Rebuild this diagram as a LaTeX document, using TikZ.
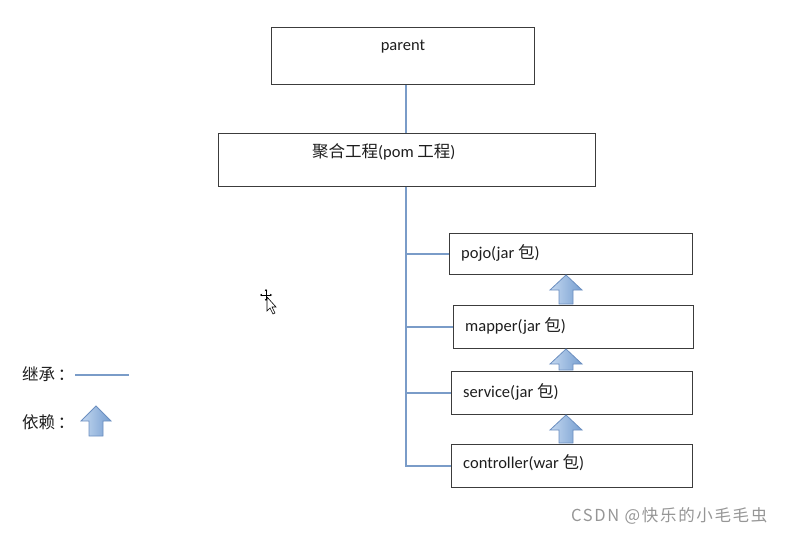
\documentclass[tikz,border=0pt]{standalone}
\usepackage{fontspec}
\setmainfont{Carlito}
\newfontfamily\cjk{Noto Sans CJK SC}
\newfontfamily\wmfont[LetterSpace=10]{Noto Sans CJK SC}
\usetikzlibrary{calc,arrows.meta}
\definecolor{linec}{RGB}{122,156,200}
\definecolor{boxc}{RGB}{60,60,60}
\definecolor{textc}{RGB}{30,30,30}
\definecolor{arrowc}{RGB}{108,143,192}
\definecolor{arrowl}{RGB}{196,216,240}
\definecolor{arrowd}{RGB}{118,158,208}
\definecolor{wmc}{RGB}{150,150,150}
\tikzset{
  box/.style={draw=boxc, line width=1pt, fill=white, inner sep=0pt, anchor=north west},
  lbl/.style={font=\fontsize{16.5}{19}\selectfont, inner sep=0pt, text=textc},
  inh/.style={draw=linec, line width=2pt},
  dep/.style={draw=arrowc, line width=0.8pt, left color=arrowl, right color=arrowd},
  wm/.style={font=\wmfont\fontsize{16.5}{19}\selectfont, inner sep=0pt, text=wmc, anchor=west},
}
\newcommand\deparrow[2]{%
  \path[dep] ($(#1.south -| ax)+(0,0)$) -- ++(16,15) -- ++(-9,0)
    -- ($(#2.north -| ax)+(7,-1)$) -- ++(-14,0)
    -- ($(#1.south -| ax)+(-7,15)$) -- ++(-9,0) -- cycle;}
\begin{document}
\begin{tikzpicture}[x=1pt,y=-1pt]
\useasboundingbox (0,0) rectangle (786,534);
% boxes
\node[box, minimum width=263pt, minimum height=57pt] (parent) at (271,27) {};
\node[box, minimum width=377pt, minimum height=53pt] (agg) at (218,133) {};
\node[box, minimum width=243pt, minimum height=41pt] (pojo) at (449,233) {};
\node[box, minimum width=240pt, minimum height=43pt] (mapper) at (453,305) {};
\node[box, minimum width=241pt, minimum height=43pt] (service) at (451,371) {};
\node[box, minimum width=241pt, minimum height=43pt] (controller) at (451,444) {};
% labels
\node[lbl] (tparent) at (403,47) {parent};
\node[lbl, anchor=west] (tagg) at (312,152) {{\cjk 聚合工程}(pom {\cjk 工程})};
\node[lbl, anchor=west] (tpojo) at (461,253) {pojo(jar {\cjk 包})};
\node[lbl, anchor=west] (tmapper) at (465,326) {mapper(jar {\cjk 包})};
\node[lbl, anchor=west] (tservice) at (463,392) {service(jar {\cjk 包})};
\node[lbl, anchor=west] (tcontroller) at (463,463) {controller(war {\cjk 包})};
% inheritance lines
\coordinate (t) at (406,0);
\draw[inh] (parent.south -| t) -- (agg.north -| t);
\draw[inh] (agg.south -| t) |- (pojo.west);
\draw[inh] (agg.south -| t) |- (mapper.west);
\draw[inh] (agg.south -| t) |- (service.west);
\draw[inh] (agg.south -| t) |- (controller.west);
% dependency arrows
\coordinate (ax) at (566,0);
\deparrow{pojo}{mapper}
\deparrow{mapper}{service}
\deparrow{service}{controller}
% legend
\node[lbl, anchor=west] (linh) at (22,374) {{\cjk 继承}\,{\cjk ：}};
\coordinate (la) at (75,375);
\coordinate (lb) at (129,375);
\draw[inh] (la) -- (lb);
\node[lbl, anchor=west] (ldep) at (22,422) {{\cjk 依赖}\,{\cjk ：}};
\coordinate (lt) at (96,406);
\coordinate (lbase) at (96,436);
\path[dep] (lt) -- ++(15,15) -- ++(-8,0) -- ($(lbase)+(7,0)$) -- ++(-14,0)
  -- ($(lt)+(-7,15)$) -- ++(-8,0) -- cycle;
% cursor
\coordinate (cc) at (266,295);
\foreach \d in {(0,-6),(0,6),(-6,0),(6,0)}
  \draw[line width=0.7pt,-{Stealth[length=2.2pt,width=2.6pt]}] (cc) -- ++\d;
\path[draw=black, fill=white, line width=0.6pt] (267,297) -- ++(0,14) -- ++(3,-3) -- ++(3,6) -- ++(2,-1) -- ++(-3,-6) -- ++(4,0) -- cycle;
% watermark
\node[wm] (wmark) at (571,516) {CSDN @快乐的小毛毛虫};
\end{tikzpicture}
\end{document}
